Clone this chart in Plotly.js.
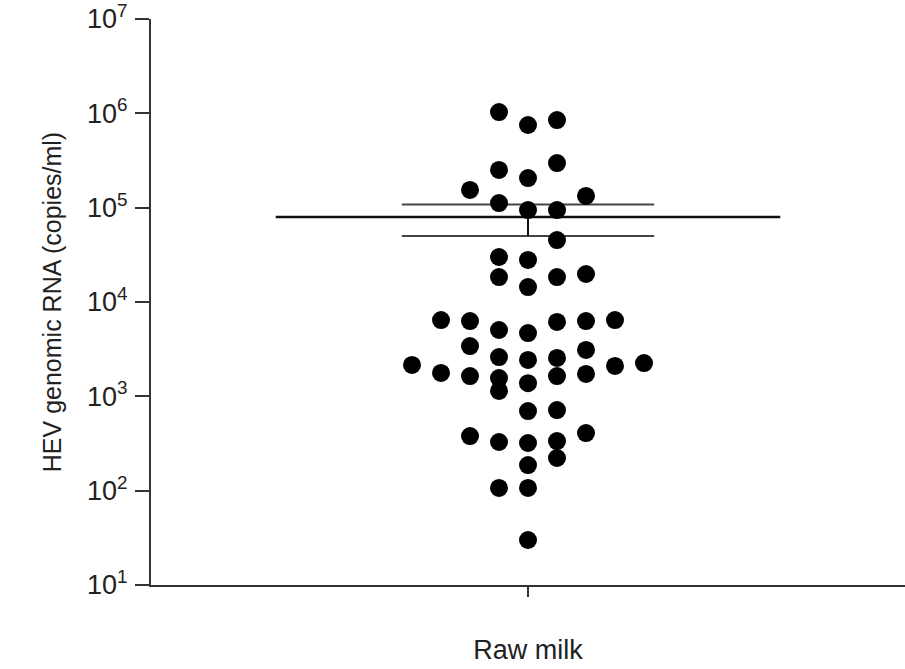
<!DOCTYPE html>
<html>
<head>
<meta charset="utf-8">
<script src="https://cdn.plot.ly/plotly-3.0.1.min.js"></script>
<style>html,body{margin:0;padding:0;background:#fff;}#chart{width:905px;height:669px;}</style>
</head>
<body>
<div id="chart"></div>
<script>
// Category
const categories = ["Raw milk"];
// Scatter column index (horizontal spread of dots within the category)
const dotColumn = [-1,0,1,-1,0,1,-2,2,-1,0,1,1,-1,0,-1,0,1,2,-3,-2,-1,0,1,2,3,-2,2,-4,-1,0,1,-3,-2,-1,-1,0,1,2,3,4,0,1,-2,-1,0,1,2,0,1,-1,0,0];
// HEV genomic RNA (copies/ml) for each sample
const dotValues = [1030000,752000,849000,251000,206000,297000,154000,133000,112000,94400,94400,45400,
  30000,27900,18400,14400,18400,19800,6440,6280,5050,4690,6140,6280,6440,3410,3100,2150,2610,2430,2550,
  1770,1640,1560,1140,1380,1640,1730,2100,2250,698,716,379,328,320,336,408,187,222,107,107,30];
// Mean and SEM bounds
const meanValue = 79600;
const semUpper = 108000;
const semLower = 50100;
// Y tick values / labels
const yTickVals = [10,100,1000,10000,100000,1000000,10000000];
const yTickText = ["10<sup>1</sup>","10<sup>2</sup>","10<sup>3</sup>","10<sup>4</sup>","10<sup>5</sup>","10<sup>6</sup>","10<sup>7</sup>"];

const MEAN_HALF = 8.7, SEM_HALF = 4.35;
const FONT = "Liberation Sans, Arial, Helvetica, sans-serif";

const traces = [
  {x:[-MEAN_HALF, MEAN_HALF], y:[meanValue, meanValue], mode:'lines', line:{color:'#111', width:2.5}, hoverinfo:'skip', showlegend:false},
  {x:[-SEM_HALF, SEM_HALF], y:[semUpper, semUpper], mode:'lines', line:{color:'#444', width:2}, hoverinfo:'skip', showlegend:false},
  {x:[-SEM_HALF, SEM_HALF], y:[semLower, semLower], mode:'lines', line:{color:'#444', width:2}, hoverinfo:'skip', showlegend:false},
  {x:[0,0], y:[semLower, semUpper], mode:'lines', line:{color:'#111', width:2}, hoverinfo:'skip', showlegend:false},
  {x: dotColumn, y: dotValues, mode:'markers', marker:{color:'#000', size:18}, showlegend:false}
];

const layout = {
  width:905, height:669,
  margin:{l:151, r:0, t:19, b:84},
  paper_bgcolor:'#fff', plot_bgcolor:'#fff',
  font:{family:FONT, color:'#222'},
  showlegend:false,
  xaxis:{
    range:[-13,13], showgrid:false, zeroline:false,
    showline:true, linecolor:'#333', linewidth:2,
    ticks:'outside', ticklen:10, tickwidth:2, tickcolor:'#333',
    tickvals:[0], ticktext:categories, ticklabelstandoff:30,
    tickfont:{size:27, family:FONT, color:'#222'}
  },
  yaxis:{
    type:'log', range:[1,7], showgrid:false, zeroline:false,
    showline:true, linecolor:'#333', linewidth:2,
    ticks:'outside', ticklen:14, tickwidth:2, tickcolor:'#333',
    tickvals:yTickVals, ticktext:yTickText, ticklabelstandoff:2,
    tickfont:{size:27, family:FONT, color:'#222'},
    title:{text:'HEV genomic RNA (copies/ml)', font:{size:25, family:FONT, color:'#222'}, standoff:18}
  }
};

Plotly.newPlot('chart', traces, layout, {displayModeBar:false, staticPlot:true});
</script>
</body>
</html>
